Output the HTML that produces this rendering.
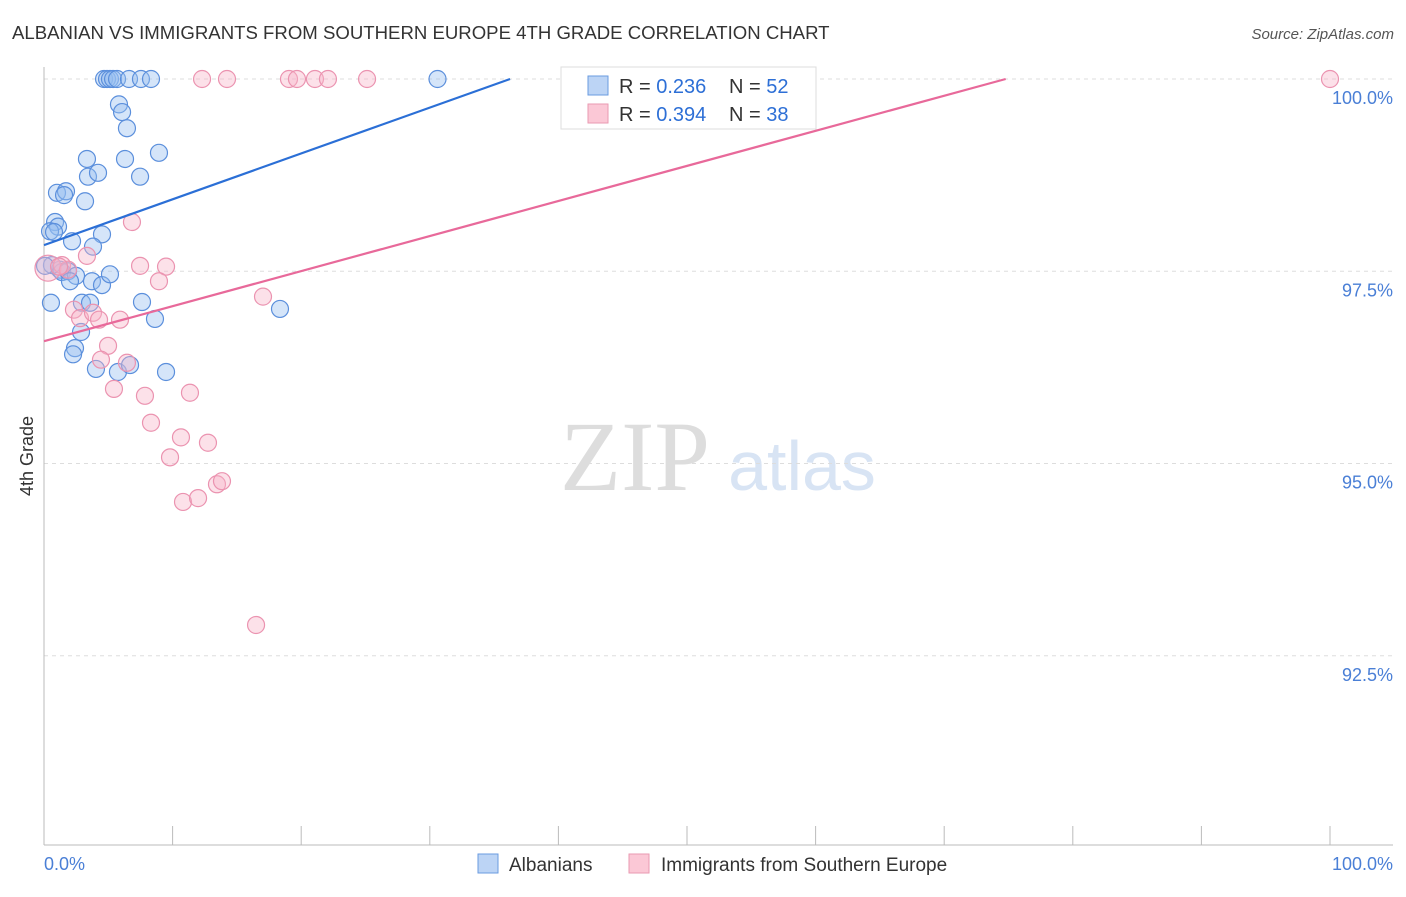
<!DOCTYPE html>
<html><head><meta charset="utf-8"><style>
body{margin:0;background:#fff;font-family:"Liberation Sans",sans-serif;}
svg text{font-family:"Liberation Sans",sans-serif;}
</style></head><body>
<svg id="chart" width="1406" height="892" xmlns="http://www.w3.org/2000/svg">
<text x="12" y="39" font-size="18.6" fill="#333">ALBANIAN VS IMMIGRANTS FROM SOUTHERN EUROPE 4TH GRADE CORRELATION CHART</text>
<text x="1394" y="39" font-size="15" fill="#555" font-style="italic" text-anchor="end">Source: ZipAtlas.com</text>
<text transform="translate(33,456) rotate(-90)" font-size="18" fill="#333" text-anchor="middle">4th Grade</text>
<g><text x="635" y="490" font-size="100" fill="#ddd" style="font-family:'Liberation Serif',serif" text-anchor="middle">ZIP</text><text x="802" y="490" font-size="70" fill="#d8e4f4" text-anchor="middle">atlas</text></g>
<g id="grid"></g><g id="axes"></g><g id="pts"></g><g id="lines"></g>
<g>
<rect x="561" y="67" width="255" height="62" fill="#fff" stroke="#ddd"/>
<rect x="588" y="76" width="20" height="19" fill="#bcd4f5" stroke="#6a9be0"/>
<text x="619" y="93" font-size="20" fill="#333">R = <tspan fill="#2d6fd6">0.236</tspan></text>
<text x="729" y="93" font-size="20" fill="#333">N = <tspan fill="#2d6fd6">52</tspan></text>
<rect x="588" y="104" width="20" height="19" fill="#fbc8d6" stroke="#e99ab2"/>
<text x="619" y="121" font-size="20" fill="#333">R = <tspan fill="#2d6fd6">0.394</tspan></text>
<text x="729" y="121" font-size="20" fill="#333">N = <tspan fill="#2d6fd6">38</tspan></text>
</g>
<g>
<rect x="478" y="854" width="20" height="19" fill="#bcd4f5" stroke="#6a9be0"/>
<text x="509" y="871" font-size="19" fill="#333">Albanians</text>
<rect x="629" y="854" width="20" height="19" fill="#fbc8d6" stroke="#e99ab2"/>
<text x="661" y="871" font-size="19" fill="#333">Immigrants from Southern Europe</text>
</g>
</svg>
<script>
const blueX=[4.67,4.9,5.13,5.37,5.68,6.61,7.54,8.32,30.6,5.83,6.07,6.45,6.3,3.34,8.94,7.47,3.42,4.2,1.01,1.71,1.56,3.19,0.86,1.09,0.47,4.51,2.18,3.81,1.24,1.4,1.87,2.49,2.02,3.73,4.51,5.13,0.54,2.95,3.58,7.62,8.63,18.35,2.88,2.41,2.26,4.04,5.75,6.69,9.49,0.62,0.08,0.78];
const blueY=[100,100,100,100,100,100,100,100,100,99.67,99.57,99.36,98.96,98.96,99.04,98.73,98.73,98.78,98.52,98.54,98.49,98.41,98.14,98.08,98.02,97.98,97.89,97.82,97.52,97.49,97.5,97.44,97.37,97.37,97.32,97.46,97.09,97.09,97.09,97.1,96.88,97.01,96.71,96.5,96.42,96.23,96.19,96.28,96.19,97.58,97.57,98.01];
const pinkX=[0.31,1.4,1.87,1.17,6.84,3.34,7.47,9.49,8.94,17.03,2.33,2.8,3.81,4.28,5.91,4.98,6.45,4.43,5.44,7.85,11.35,8.32,10.65,12.75,9.8,10.81,11.98,13.45,13.84,16.49,12.29,14.23,19.05,19.67,21.07,22.08,25.12,100];
const pinkY=[97.54,97.58,97.52,97.56,98.14,97.7,97.57,97.56,97.37,97.17,97.0,96.89,96.96,96.87,96.87,96.53,96.31,96.35,95.97,95.88,95.92,95.53,95.34,95.27,95.08,94.5,94.55,94.73,94.77,92.9,100,100,100,100,100,100,100,100];
const yTicks=[100,97.5,95,92.5];
const yTickLabels=["100.0%","97.5%","95.0%","92.5%"];
const xTickLabels=["0.0%","100.0%"];
const blueLine=[97.84,0.0596];
const pinkLine=[96.59,0.0456];
const NS="http://www.w3.org/2000/svg";
const X=v=>44+v*12.86, Y=v=>79+(100-v)*76.9;
function mk(t,a,p){const e=document.createElementNS(NS,t);for(const k in a)e.setAttribute(k,a[k]);document.getElementById(p).appendChild(e);return e;}
yTicks.forEach((t,i)=>{
 const l=mk('line',{x1:44,x2:1393,y1:Y(t),y2:Y(t),stroke:'#ddd','stroke-dasharray':'4,4'},'grid');
 
 
 const tx=mk('text',{x:1393,y:Y(t)+25,'font-size':18,fill:'#4a7fd6','text-anchor':'end'},'axes');tx.textContent=yTickLabels[i];
 
 
});
const ax=mk('line',{x1:44,x2:44,y1:67,y2:845,stroke:'#bbb'},'axes');


const bx=mk('line',{x1:44,x2:1393,y1:845,y2:845,stroke:'#bbb'},'axes');


for(let i=0;i<=10;i++){const t=mk('line',{x1:X(i*10),x2:X(i*10),y1:826,y2:845,stroke:'#bbb'},'axes');
 
 }
[[0,'start',44],[100,'end',1393]].forEach((d,i)=>{const t=mk('text',{x:d[2],y:870,'font-size':18,fill:'#4a7fd6','text-anchor':d[1]},'axes');t.textContent=xTickLabels[i];
 
 });
blueX.forEach((x,i)=>{const c=mk('circle',{cx:X(x),cy:Y(blueY[i]),r:8.5,fill:'rgba(150,190,240,0.4)',stroke:'#5b8fdc','stroke-width':1.2},'pts');
 
 });
pinkX.forEach((x,i)=>{const c=mk('circle',{cx:X(x),cy:Y(pinkY[i]),r:i==0?13:8.5,fill:'rgba(248,180,200,0.4)',stroke:'#eb93b0','stroke-width':1.2},'pts');
 
 });
[[blueLine,'#2b6fd6','albanians-trendline'],[pinkLine,'#e8699a','southern-europe-trendline']].forEach(d=>{
 const b=d[0][0],m=d[0][1];const xe=Math.min(100,(100-b)/m);
 const l=mk('line',{x1:X(0),y1:Y(b),x2:X(xe),y2:Y(b+m*xe),stroke:d[1],'stroke-width':2.2},'lines');
 
 
});
</script>
</body></html>
